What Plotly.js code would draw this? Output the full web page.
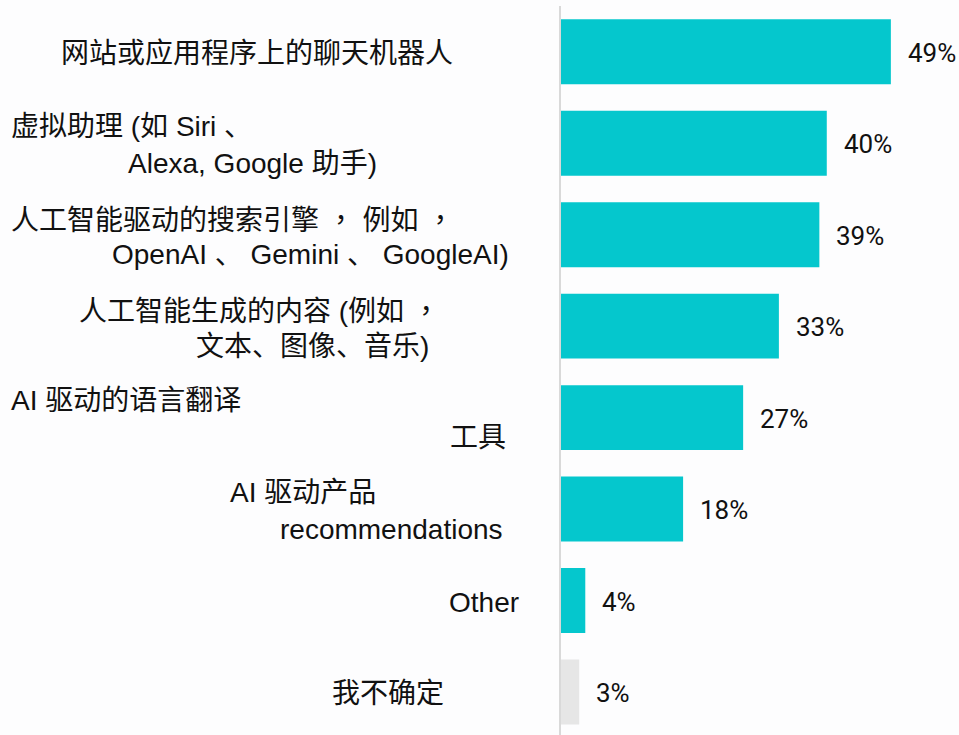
<!DOCTYPE html>
<html>
<head>
<meta charset="utf-8">
<script src="https://cdn.plot.ly/plotly-3.0.1.min.js"></script>
<style>
  html, body { margin: 0; padding: 0; background: #fdfdfe; }
  #graph { width: 959px; height: 735px; }
</style>
</head>
<body>
<div id="graph"></div>
<script>
// categories, top to bottom (<br> marks the line break of the label)
var categories = [
    "网站或应用程序上的聊天机器人",
    "虚拟助理 (如 Siri 、<br>Alexa, Google 助手)",
    "人工智能驱动的搜索引擎 ， 例如 ，<br>OpenAI 、 Gemini 、 GoogleAI)",
    "人工智能生成的内容 (例如 ，<br>文本、图像、音乐)",
    "AI 驱动的语言翻译<br>工具",
    "AI 驱动产品<br>recommendations",
    "Other",
    "我不确定"
];
var values = [48.9, 39.4, 38.3, 32.3, 27.0, 18.1, 3.6, 2.7];
var valueLabels = ["49%", "40%", "39%", "33%", "27%", "18%", "4%", "3%"];

// styling
var barColors = ["#05c7cd", "#05c7cd", "#05c7cd", "#05c7cd", "#05c7cd", "#05c7cd", "#05c7cd", "#e6e6e6"];
// left pixel edge of every label line (labels are placed by hand, like the original)
var lineLeft = [[62], [12, 129], [12, 113], [80, 197], [12, 451], [231, 281], [450], [333]];
var plotLeft = 561;

// full-width commas sit centred in the original, as in the TC font
function styleCommas(s) {
    return s.replace(/，/g, '<span style="font-family:Noto Sans CJK TC">，</span>');
}

function drawGraph() {
    var trace, layout, annotations = [];

    trace = {
        type: "bar",
        orientation: "h",
        x: values,
        y: categories,
        marker: { color: barColors },
        hoverinfo: "skip"
    };

    // category labels, one annotation per line
    categories.forEach(function (cat, i) {
        var lines = cat.split("<br>");
        lines.forEach(function (line, j) {
            var shift = lines.length === 1 ? 0 : (j === 0 ? 18.5 : -18.5);
            annotations.push({
                xref: "paper", yref: "y",
                x: 0, y: cat,
                xanchor: "left", yanchor: "middle",
                xshift: lineLeft[i][j] - plotLeft - 3,
                yshift: shift - 1.5,
                text: styleCommas(line),
                showarrow: false,
                font: { family: "Liberation Sans, Noto Sans CJK SC", size: 28, color: "#111111" }
            });
        });
    });

    // value labels just right of each bar
    values.forEach(function (v, i) {
        annotations.push({
            xref: "x", yref: "y",
            x: v, y: categories[i],
            xanchor: "left", yanchor: "middle",
            xshift: 15,
            yshift: -1,
            text: valueLabels[i],
            showarrow: false,
            font: { family: "Roboto", size: 26, color: "#111111" }
        });
    });

    layout = {
        width: 959,
        height: 735,
        margin: { l: plotLeft, r: 0, t: 6, b: 0 },
        paper_bgcolor: "#fdfdfe",
        plot_bgcolor: "#fdfdfe",
        bargap: 0.29,
        showlegend: false,
        xaxis: {
            range: [0, 59],
            showgrid: false,
            zeroline: false,
            showticklabels: false,
            ticks: ""
        },
        yaxis: {
            type: "category",
            range: [7.47, -0.5],
            showticklabels: false,
            showgrid: false,
            zeroline: false,
            showline: true,
            linecolor: "#d9d9d9",
            linewidth: 2,
            ticks: ""
        },
        annotations: annotations
    };

    Plotly.newPlot("graph", [trace], layout, { staticPlot: true });
}

drawGraph();
</script>
</body>
</html>
